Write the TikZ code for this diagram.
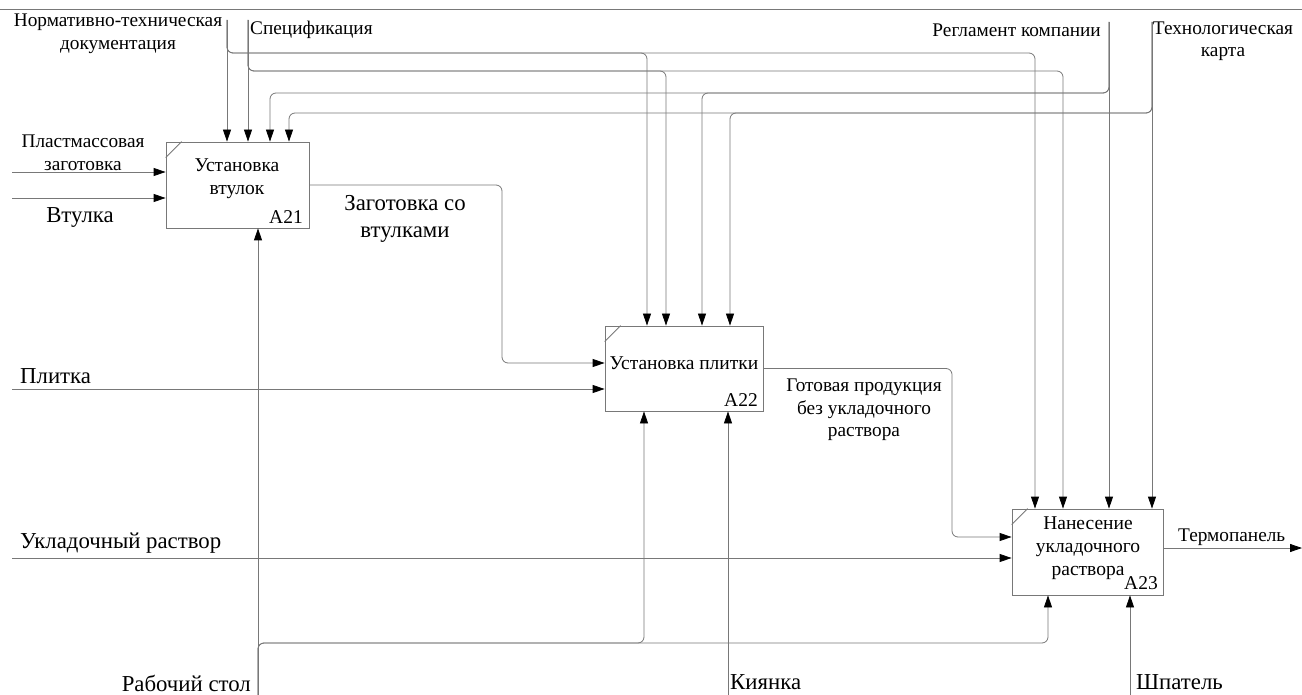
\documentclass[tikz,border=0pt]{standalone}
\usepackage{fontspec}
\setmainfont{Liberation Serif}
\usetikzlibrary{positioning,arrows.meta}

\definecolor{linegray}{RGB}{120,120,120}
\tikzset{
  fn/.style={draw=linegray, line width=0.8pt, inner sep=0pt},
  ln/.style={draw=linegray, line width=0.8pt, rounded corners=6pt},
  ar/.style={ln, -{Triangle[length=12pt,width=8pt,color=black]}},
  sm/.style={font=\fontsize{19.3}{22.5}\selectfont, inner sep=0pt, align=center},
  bg/.style={font=\fontsize{22.8}{27}\selectfont, inner sep=0pt, align=center},
  bx/.style={font=\fontsize{19.5}{23}\selectfont, inner sep=0pt, align=center},
}

\begin{document}
\begin{tikzpicture}[x=1pt,y=-1pt]
\useasboundingbox (0,0) rectangle (1302,695);

% function boxes
\node[fn, minimum width=143pt, minimum height=86pt] (a21) at (237.5,185) {};
\node[fn, minimum width=158pt, minimum height=85pt] (a22) at (684,368.5) {};
\node[fn, minimum width=151pt, minimum height=86pt] (a23) at (1087.5,552) {};
\foreach \b in {a21,a22,a23}
  \draw[linegray, line width=0.8pt] (\b.north west) ++(0,16) -- ++(16,-16);

\node[bx] (t21) at (237,179) {Установка\\втулок};
\node[bx] (t22) at (684,363) {Установка плитки};
\node[bx] (t23) at (1088,548) {Нанесение\\укладочного\\раствора};
\node[bx, anchor=east] (n21) at (303,217) {A21};
\node[bx, anchor=east] (n22) at (758,400) {A22};
\node[bx, anchor=east] (n23) at (1158,583) {A23};

% free ends
\coordinate (ntd) at (227,20);
\coordinate (spc) at (248,20);
\coordinate (rgl) at (1109,22);
\coordinate (tkr) at (1152,22);
\coordinate (pls) at (12,172);
\coordinate (vtl) at (12,198);
\coordinate (plt) at (12,389);
\coordinate (ukl) at (12,558);
\coordinate (rst) at (258,695);
\coordinate (kyn) at (728,695);
\coordinate (shp) at (1130,695);
\coordinate (tpn) at (1302,548);

\draw[linegray, line width=0.6pt] (0,9) -- (1302,9);

% controls
\draw[ar] (ntd) -- (a21.north -| ntd);
\draw[ar] (ntd) |- (647,53) -- (a22.north -| 647,0);
\draw[ar] (ntd) |- (1035,53) -- (a23.north -| 1035,0);
\draw[ar] (spc) -- (a21.north -| spc);
\draw[ar] (spc) |- (666,71) -- (a22.north -| 666,0);
\draw[ar] (spc) |- (1063,71) -- (a23.north -| 1063,0);
\draw[ar] (rgl) -- (a23.north -| rgl);
\draw[ar] (rgl) |- (702,93) -- (a22.north -| 702,0);
\draw[ar] (rgl) |- (270,93) -- (a21.north -| 270,0);
\draw[ar] (tkr) -- (a23.north -| tkr);
\draw[ar] (tkr) |- (730,113) -- (a22.north -| 730,0);
\draw[ar] (tkr) |- (289,113) -- (a21.north -| 289,0);

% inputs and outputs
\draw[ar] (pls) -- (a21.west |- pls);
\draw[ar] (vtl) -- (a21.west |- vtl);
\draw[ar] (plt) -- (a22.west |- plt);
\draw[ar] (ukl) -- (a23.west |- ukl);
\draw[ar] (a21.east) -| (502,363) -- (a22.west |- 0,363);
\draw[ar] (a22.east) -| (952,537) -- (a23.west |- 0,537);
\draw[ar] (a23.east |- 0,548) -- (tpn);

% mechanisms
\draw[ar] (rst) -- (a21.south -| rst);
\draw[ar] (rst) |- (644,643) -- (a22.south -| 644,0);
\draw[ar] (rst) |- (1048,643) -- (a23.south -| 1048,0);
\draw[ar] (kyn) -- (a22.south -| kyn);
\draw[ar] (shp) -- (a23.south -| shp);

% labels
\node[sm] (ntdl) at (118,34) {Нормативно-техническая\\документация};
\node[sm, anchor=west] (spcl) at (250,30) {Спецификация};
\node[sm, anchor=east] (rgll) at (1101,30) {Регламент компании};
\node[sm] (tkrl) at (1223,41) {Технологическая\\карта};
\node[sm] (plsl) at (83,153) {Пластмассовая\\заготовка};
\node[bg] (vtll) at (80,217) {Втулка};
\node[bg] (zsvl) at (405,219) {Заготовка со\\втулками};
\node[bg, anchor=west] (pltl) at (20,376) {Плитка};
\node[bg, anchor=west] (ukll) at (20,543) {Укладочный раствор};
\node[bg, anchor=east] (rstl) at (251,683) {Рабочий стол};
\node[bg, anchor=west] (kynl) at (730,682) {Киянка};
\node[bg, anchor=west] (shpl) at (1136,682) {Шпатель};
\node[sm, anchor=west] (tpnl) at (1178,537) {Термопанель};
\node[sm] (gpbl) at (864,410) {Готовая продукция\\без укладочного\\раствора};
\end{tikzpicture}
\end{document}
